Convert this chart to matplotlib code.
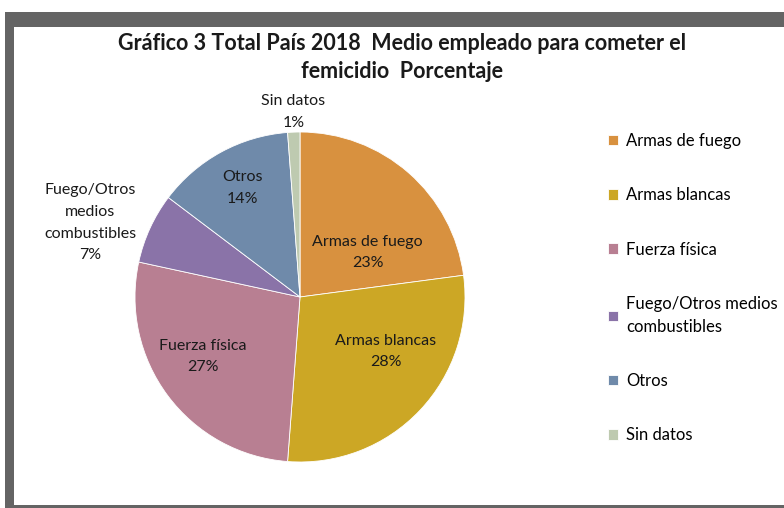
import matplotlib.pyplot as plt
from matplotlib.patches import Rectangle

# Data
categorias = ["Armas de fuego", "Armas blancas", "Fuerza física",
              "Fuego/Otros medios\ncombustibles", "Otros", "Sin datos"]
valores = [22.9, 28.3, 27.2, 6.9, 13.5, 1.2]
etiquetas = ["Armas de fuego\n23%", "Armas blancas\n28%", "Fuerza física\n27%",
             "Fuego/Otros\nmedios\ncombustibles\n7%", "Otros\n14%", "Sin datos\n1%"]
colores = ["#D8913F", "#CCA725", "#B87F92", "#8A73A8", "#6F8AAA", "#BECAB0"]

# label positions (pie radius = 1)
pos_etiquetas = [(0.41, 0.27), (0.52, -0.33), (-0.59, -0.36),
                 (-1.27, 0.45), (-0.35, 0.66), (-0.04, 1.12)]

plt.rcParams['font.family'] = ['Lato', 'DejaVu Sans']

fig = plt.figure(figsize=(7.84, 5.08), dpi=100)
W, H = 784, 508

# gray frame (top, left, bottom)
gris = "#646464"
fig.patches.append(Rectangle((5 / W, 1 - 27 / H), 1, 15 / H, transform=fig.transFigure,
                             facecolor=gris, edgecolor="none"))
fig.patches.append(Rectangle((5 / W, 0), 9 / W, 1 - 12 / H, transform=fig.transFigure,
                             facecolor=gris, edgecolor="none"))
fig.patches.append(Rectangle((5 / W, 0), 1, 3 / H, transform=fig.transFigure,
                             facecolor=gris, edgecolor="none"))

# pie axes: center (300, 297), radius 165 px
ax = fig.add_axes([(300 - 200) / W, 1 - (297 + 200) / H, 400 / W, 400 / H])
wedges, _ = ax.pie(valores, colors=colores, startangle=90, counterclock=False,
                   wedgeprops=dict(edgecolor="white", linewidth=0.6))
ax.set_xlim(-200 / 165, 200 / 165)
ax.set_ylim(-200 / 165, 200 / 165)
ax.set_aspect("equal")
ax.axis("off")

for txt, (x, y) in zip(etiquetas, pos_etiquetas):
    ax.text(x, y, txt, ha="center", va="center", fontsize=11.5, color="#1a1a1a",
            linespacing=1.7)

fig.text(402 / W, 1 - 44 / H, "Gráfico 3 Total País 2018  Medio empleado para cometer el",
         ha="center", va="center", fontsize=15.5, fontweight="bold", color="#1a1a1a")
fig.text(402 / W, 1 - 71 / H, "femicidio  Porcentaje",
         ha="center", va="center", fontsize=15.5, fontweight="bold", color="#1a1a1a")

leg = fig.legend(wedges, categorias, loc="upper left", bbox_to_anchor=(593 / W, 1 - 118 / H),
                 frameon=False, fontsize=12, handlelength=0.6, handleheight=0.6,
                 handletextpad=0.5, labelspacing=2.3)
for t in leg.get_texts():
    t.set_linespacing(1.5)

fig.savefig("out.png", dpi=100, facecolor="white")
